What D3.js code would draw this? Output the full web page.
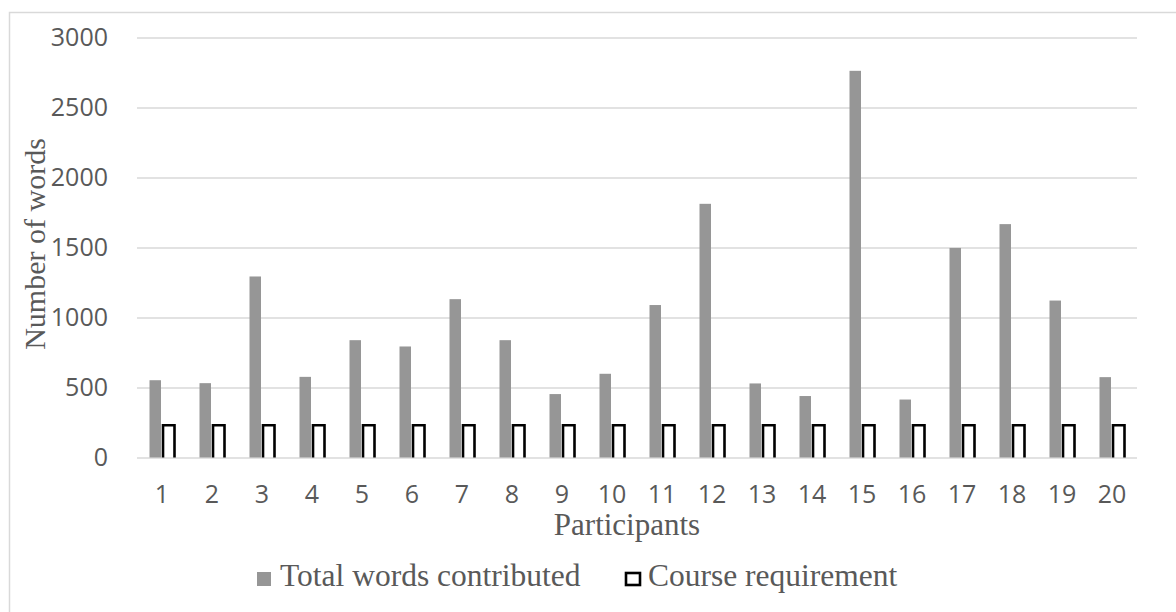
<!DOCTYPE html>
<html>
<head>
<meta charset="utf-8">
<script src="https://cdn.jsdelivr.net/npm/d3@7"></script>
<style>
  body { margin: 0; background: #fff; }
  svg { display: block; }
</style>
</head>
<body>
<div id="chart"></div>
<script>
const WIDTH = 1176;
const HEIGHT = 612;

// data
const participants = ["1","2","3","4","5","6","7","8","9","10","11","12","13","14","15","16","17","18","19","20"];
const totalWords = [552, 531, 1293, 576, 838, 793, 1131, 838, 453, 598, 1089, 1812, 529, 439, 2762, 414, 1497, 1667, 1121, 574];
const requirement = [230, 230, 230, 230, 230, 230, 230, 230, 230, 230, 230, 230, 230, 230, 230, 230, 230, 230, 230, 230];
const seriesNames = ["Total words contributed", "Course requirement"];
const yTicks = [0, 500, 1000, 1500, 2000, 2500, 3000];

const margin = {left: 137, right: 39, top: 37.5, bottom: 154.5}; // plot area 137..1137, 37.5..457.5

const svg = d3.select("#chart").append("svg")
  .attr("width", WIDTH)
  .attr("height", HEIGHT);

// chart border (runs off right and bottom edges)
svg.append("rect")
  .attr("x", 9.5).attr("y", 12.5)
  .attr("width", WIDTH + 10).attr("height", HEIGHT + 10)
  .attr("fill", "none")
  .attr("stroke", "#d9d9d9")
  .attr("stroke-width", 1.5);

const x0 = d3.scaleBand()
  .domain(participants)
  .range([margin.left, WIDTH - margin.right])
  .paddingInner(0.5).paddingOuter(0.25);

const x1 = d3.scaleBand()
  .domain(seriesNames)
  .range([0, x0.bandwidth()])
  .paddingInner(0.15);

const y = d3.scaleLinear()
  .domain([0, 3000])
  .range([HEIGHT - margin.bottom, margin.top]);

// gridlines + y labels
const yAxis = svg.append("g")
  .attr("transform", `translate(${margin.left},0)`)
  .call(d3.axisLeft(y).tickValues(yTicks).tickFormat(d3.format("d"))
    .tickSize(-(WIDTH - margin.left - margin.right)).tickPadding(29));
yAxis.select(".domain").remove();
yAxis.selectAll(".tick line").attr("stroke", "#d9d9d9").attr("stroke-width", 1.5);
yAxis.selectAll(".tick text")
  .attr("fill", "#595959")
  .style("font-family", "'Open Sans', sans-serif")
  .style("font-size", "25px");

// gray bars
svg.append("g").selectAll("rect")
  .data(totalWords)
  .join("rect")
  .attr("x", (d, i) => x0(participants[i]) + x1(seriesNames[0]))
  .attr("y", d => y(d))
  .attr("width", x1.bandwidth())
  .attr("height", d => y(0) - y(d))
  .attr("fill", "#969696");

// outlined bars, open at the bottom like the original
svg.append("g").selectAll("path")
  .data(requirement)
  .join("path")
  .attr("d", (d, i) => {
    const left = x0(participants[i]) + x1(seriesNames[1]);
    const right = left + x1.bandwidth();
    return `M${left},${y(0)}V${y(d)}H${right}V${y(0)}`;
  })
  .attr("fill", "none")
  .attr("stroke", "#000")
  .attr("stroke-width", 2.6);

// x labels
const xAxis = svg.append("g")
  .attr("transform", `translate(0,${y(0)})`)
  .call(d3.axisBottom(x0).tickSize(0).tickPadding(28));
xAxis.select(".domain").remove();
xAxis.selectAll(".tick")
  .attr("transform", d => `translate(${x0(d) + x0.bandwidth() / 2},0)`);
xAxis.selectAll(".tick text")
  .attr("fill", "#595959")
  .style("font-family", "'Open Sans', sans-serif")
  .style("font-size", "25px");

// axis titles
svg.append("text")
  .attr("transform", "translate(45,244) rotate(-90)")
  .attr("text-anchor", "middle")
  .attr("fill", "#595959")
  .style("font-family", "'Liberation Serif', serif")
  .style("font-size", "30px")
  .text("Number of words");

svg.append("text")
  .attr("x", 627).attr("y", 535)
  .attr("text-anchor", "middle")
  .attr("fill", "#595959")
  .style("font-family", "'Liberation Serif', serif")
  .style("font-size", "31px")
  .text("Participants");

// legend
const legend = svg.append("g");
legend.append("rect")
  .attr("x", 257).attr("y", 572).attr("width", 14).attr("height", 14)
  .attr("fill", "#969696");
legend.append("text")
  .attr("x", 280).attr("y", 586)
  .attr("fill", "#595959")
  .style("font-family", "'Liberation Serif', serif")
  .style("font-size", "31.5px")
  .text(seriesNames[0]);
legend.append("rect")
  .attr("x", 626).attr("y", 573).attr("width", 14).attr("height", 12)
  .attr("fill", "none").attr("stroke", "#000").attr("stroke-width", 2.6);
legend.append("text")
  .attr("x", 648).attr("y", 586)
  .attr("fill", "#595959")
  .style("font-family", "'Liberation Serif', serif")
  .style("font-size", "31.5px")
  .text(seriesNames[1]);
</script>
</body>
</html>
